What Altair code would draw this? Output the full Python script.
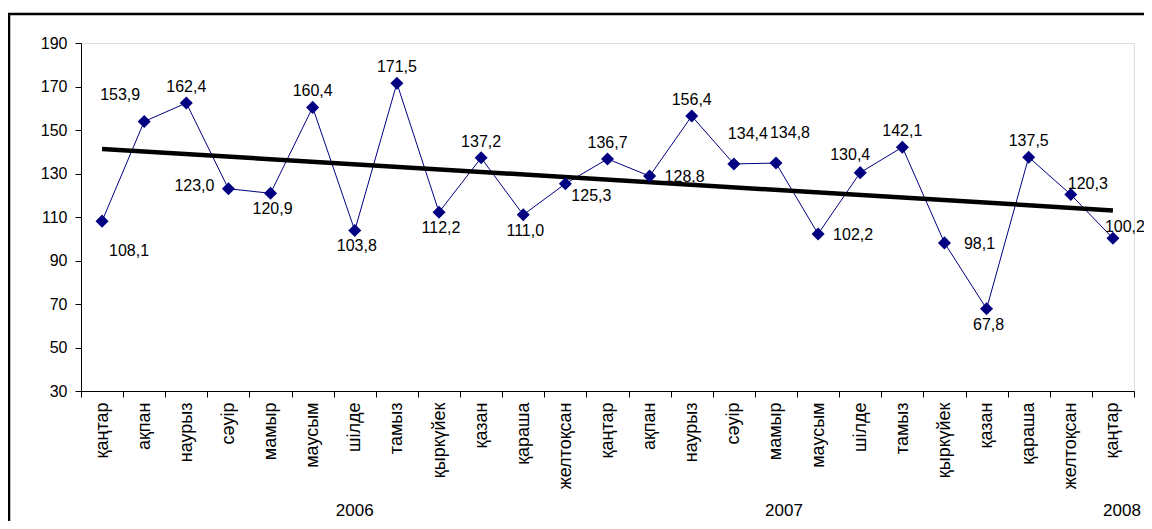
import altair as alt
import pandas as pd

months = ["қаңтар", "ақпан", "наурыз", "сәуір", "мамыр", "маусым", "шілде", "тамыз",
          "қыркүйек", "қазан", "қараша", "желтоқсан",
          "қаңтар", "ақпан", "наурыз", "сәуір", "мамыр", "маусым", "шілде", "тамыз",
          "қыркүйек", "қазан", "қараша", "желтоқсан",
          "қаңтар"]
values = [108.1, 153.9, 162.4, 123.0, 120.9, 160.4, 103.8, 171.5, 112.2, 137.2, 111.0, 125.3,
          136.7, 128.8, 156.4, 134.4, 134.8, 102.2, 130.4, 142.1, 98.1, 67.8, 137.5, 120.3,
          100.2]
years = ["2006", "2007", "2008"]
year_at = [6, 16, 24]          # category index under which each year label sits
label_side = ["dr", "ul", "a", "l", "b", "a", "b", "a", "b", "a", "b", "br",
              "a", "r", "a", "ur", "ur", "r", "al", "a", "r", "b", "a", "ar", "ae"]

n = len(values)
df = pd.DataFrame({
    "i": list(range(n)),
    "v": values,
    "lab": [f"{v:.1f}".replace(".", ",") for v in values],
    "side": label_side,
})
ydf = pd.DataFrame({"i": year_at, "year": years})

FONT = "Liberation Sans"
NAVY = "#000080"
W, H = 1053, 348

month_expr = "[" + ",".join(f"'{m}'" for m in months) + "][datum.value]"

x_enc = alt.X(
    "i:O",
    scale=alt.Scale(type="band", domain=list(range(n)), paddingInner=0, paddingOuter=0),
    axis=alt.Axis(
        title=None, labelExpr=month_expr, labelAngle=270, tickBand="extent",
        tickSize=6, tickColor="black", domainColor="black", labelColor="black",
        labelFont=FONT, labelFontSize=18, labelPadding=5, labelBaseline="middle",
        labelAlign="right", grid=False,
    ),
    bandPosition=0.5,
)
y_enc = alt.Y(
    "v:Q",
    scale=alt.Scale(domain=[30, 190], nice=False, zero=False),
    axis=alt.Axis(
        title=None, values=list(range(30, 191, 20)), tickSize=6, tickColor="black",
        domainColor="black", labelColor="black", labelFont=FONT, labelFontSize=16,
        labelPadding=8, grid=False,
    ),
)

base = alt.Chart(df)

border = base.mark_rect(fill=None, stroke="black", strokeWidth=2.5, clip=False).encode(
    x=alt.value(-72), x2=alt.value(1090), y=alt.value(-29), y2=alt.value(500)
).transform_filter("datum.i == 0")

line = base.mark_line(color=NAVY, strokeWidth=1).encode(x=x_enc, y=y_enc)

trend = base.transform_regression("i", "v", extent=[0, n - 1]).mark_line(
    color="black", strokeWidth=4.5
).encode(x=x_enc, y=y_enc)

pts = base.mark_point(shape="diamond", filled=True, color=NAVY, size=170, opacity=1).encode(
    x=x_enc, y=y_enc
)

offsets = {
    "a": (0, -16), "b": (2, 16), "l": (-34, -3), "r": (35, 1), "ul": (-24, -27),
    "dr": (27, 30), "ur": (14, -30), "ar": (17, -11), "al": (-10, -18), "br": (26, 12),
    "ae": (12, -11),
}
label_layers = []
for key, (ddx, ddy) in offsets.items():
    label_layers.append(
        base.transform_filter(f"datum.side == '{key}'").mark_text(
            font=FONT, fontSize=16, color="black", dx=ddx, dy=ddy,
            align="center", baseline="middle",
        ).encode(x=x_enc, y=y_enc, text="lab:N")
    )

year_dx = {"2006": 0, "2007": 8, "2008": 9}
year_layers = []
for yr, ddx in year_dx.items():
    year_layers.append(
        alt.Chart(ydf).transform_filter(f"datum.year == '{yr}'").mark_text(
            font=FONT, fontSize=17, color="black", dx=ddx, baseline="middle", align="center"
        ).encode(x=x_enc, y=alt.value(468), text="year:N")
    )

chart = alt.layer(border, line, trend, pts, *label_layers, *year_layers).properties(
    width=W, height=H,
    autosize=alt.AutoSizeParams(type="none"),
    padding={"left": 73, "top": 35, "right": 10, "bottom": 130},
).configure_view(stroke=None).configure(background="white")

chart.save("out.html", embed_options={"renderer": "svg", "actions": False})
